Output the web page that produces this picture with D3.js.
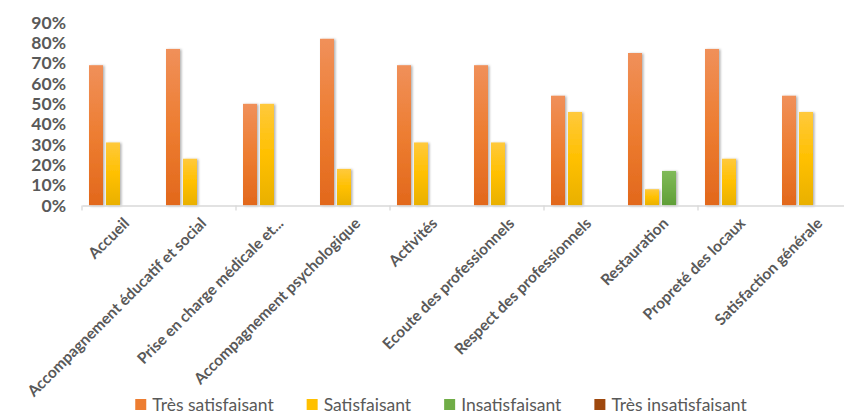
<!DOCTYPE html>
<html>
<head>
<meta charset="utf-8">
<script src="https://cdn.jsdelivr.net/npm/d3@7"></script>
<style>
  body { margin: 0; background: #fff; }
  svg { display: block; font-family: Lato, "Open Sans", sans-serif; }
</style>
</head>
<body>
<script>
// categories and values
var categories = ["Accueil", "Accompagnement éducatif et social", "Prise en charge médicale et...",
  "Accompagnement psychologique", "Activités", "Ecoute des professionnels",
  "Respect des professionnels", "Restauration", "Propreté des locaux", "Satisfaction générale"];
var seriesNames = ["Très satisfaisant", "Satisfaisant", "Insatisfaisant", "Très insatisfaisant"];
var tresSatisfaisant = [0.69, 0.77, 0.50, 0.82, 0.69, 0.69, 0.54, 0.75, 0.77, 0.54];
var satisfaisant     = [0.31, 0.23, 0.50, 0.18, 0.31, 0.31, 0.46, 0.08, 0.23, 0.46];
var insatisfaisant   = [0, 0, 0, 0, 0, 0, 0, 0.17, 0, 0];
var tresInsatisfaisant = [0, 0, 0, 0, 0, 0, 0, 0, 0, 0];
var yTicks = [0, 0.1, 0.2, 0.3, 0.4, 0.5, 0.6, 0.7, 0.8, 0.9];

var allSeries = [tresSatisfaisant, satisfaisant, insatisfaisant, tresInsatisfaisant];
var colors = ["#ED7D31", "#FFC000", "#70AD47", "#9E480E"];
var tops   = ["#F0905A", "#FFC93C", "#80BA5A", "#A85520"];
var bottoms = ["#E2681C", "#E9B000", "#5F9E37", "#8E3E08"];

var W = 844, H = 415;
var svg = d3.select("body").append("svg").attr("width", W).attr("height", H);

var defs = svg.append("defs");
seriesNames.forEach(function(s, i) {
  var g = defs.append("linearGradient").attr("id", "grad" + i)
    .attr("x1", 0).attr("y1", 0).attr("x2", 0).attr("y2", 1);
  g.append("stop").attr("offset", "0%").attr("stop-color", tops[i]);
  g.append("stop").attr("offset", "50%").attr("stop-color", colors[i]);
  g.append("stop").attr("offset", "100%").attr("stop-color", bottoms[i]);
});
var f = defs.append("filter").attr("id", "shadow").attr("x", "-20%").attr("y", "-5%")
  .attr("width", "150%").attr("height", "115%");
f.append("feDropShadow").attr("dx", 1.5).attr("dy", 0.5).attr("stdDeviation", 1)
  .attr("flood-color", "#000").attr("flood-opacity", 0.3);

// scales
var x0 = d3.scaleBand().domain(categories).range([82, 852]);
var x1 = d3.scaleBand().domain(seriesNames).range([7, 72]).paddingInner(3 / 17);
var y = d3.scaleLinear().domain([0, 0.9]).range([205.5, 22.5]);

// y axis labels
var yAxis = svg.append("g").attr("transform", "translate(66,0)")
  .call(d3.axisLeft(y).tickValues(yTicks).tickSize(0).tickPadding(0).tickFormat(d3.format(".0%")));
yAxis.select(".domain").remove();
yAxis.selectAll("text").attr("fill", "#595959").attr("font-size", "17.5px")
  .attr("font-weight", "bold").attr("font-family", "Lato, sans-serif");

// bars
var groups = svg.append("g").selectAll("g").data(categories).join("g")
  .attr("transform", function(d) { return "translate(" + x0(d) + ",0)"; });
groups.selectAll("rect")
  .data(function(d, ci) {
    return seriesNames.map(function(s, si) { return { s: s, si: si, v: allSeries[si][ci] }; })
      .filter(function(e) { return e.v > 0; });
  })
  .join("rect")
  .attr("x", function(d) { return x1(d.s); })
  .attr("width", x1.bandwidth())
  .attr("y", function(d) { return y(d.v); })
  .attr("height", function(d) { return y(0) - y(d.v); })
  .attr("fill", function(d) { return "url(#grad" + d.si + ")"; })
  .attr("filter", "url(#shadow)");

// x axis
var xAxis = svg.append("g").attr("transform", "translate(0," + y(0) + ")")
  .call(d3.axisBottom(x0).tickSize(0).tickPadding(0).tickFormat(""));
xAxis.select(".domain").attr("stroke", "#D9D9D9").attr("stroke-width", 1.3);
xAxis.selectAll(".tick").remove();
var bounds = categories.filter(function(d, i) { return i % 2 === 0; }).map(function(d) { return x0(d); });
xAxis.selectAll(".bound").data(bounds).join("line").attr("class", "bound")
  .attr("x1", function(d) { return d; }).attr("x2", function(d) { return d; })
  .attr("y1", 0).attr("y2", 5).attr("stroke", "#D9D9D9").attr("stroke-width", 1.3);

svg.append("g").selectAll("text").data(categories).join("text")
  .attr("transform", function(d) {
    return "translate(" + (x0(d) + x0.bandwidth() / 2 + 6) + "," + (y(0) + 15) + ") rotate(-45)";
  })
  .attr("text-anchor", "end")
  .attr("dy", "0.35em")
  .attr("fill", "#595959")
  .attr("font-size", "15.5px")
  .attr("font-weight", "bold")
  .text(function(d) { return d; });

// legend
var legend = svg.append("g");
var items = legend.selectAll("g").data(seriesNames).join("g");
items.append("rect").attr("width", 11).attr("height", 11).attr("y", -6)
  .attr("fill", function(d, i) { return colors[i]; });
items.append("text").attr("x", 17).attr("dy", "0.35em")
  .attr("fill", "#595959").attr("font-size", "17.5px").text(function(d) { return d; });
var xpos = 0;
items.each(function() {
  var g = d3.select(this);
  g.attr("transform", "translate(" + xpos + ",0)");
  xpos += 17 + g.select("text").node().getComputedTextLength() + 33;
});
var total = xpos - 33;
legend.attr("transform", "translate(" + (441 - total / 2) + ",405)");
</script>
</body>
</html>
